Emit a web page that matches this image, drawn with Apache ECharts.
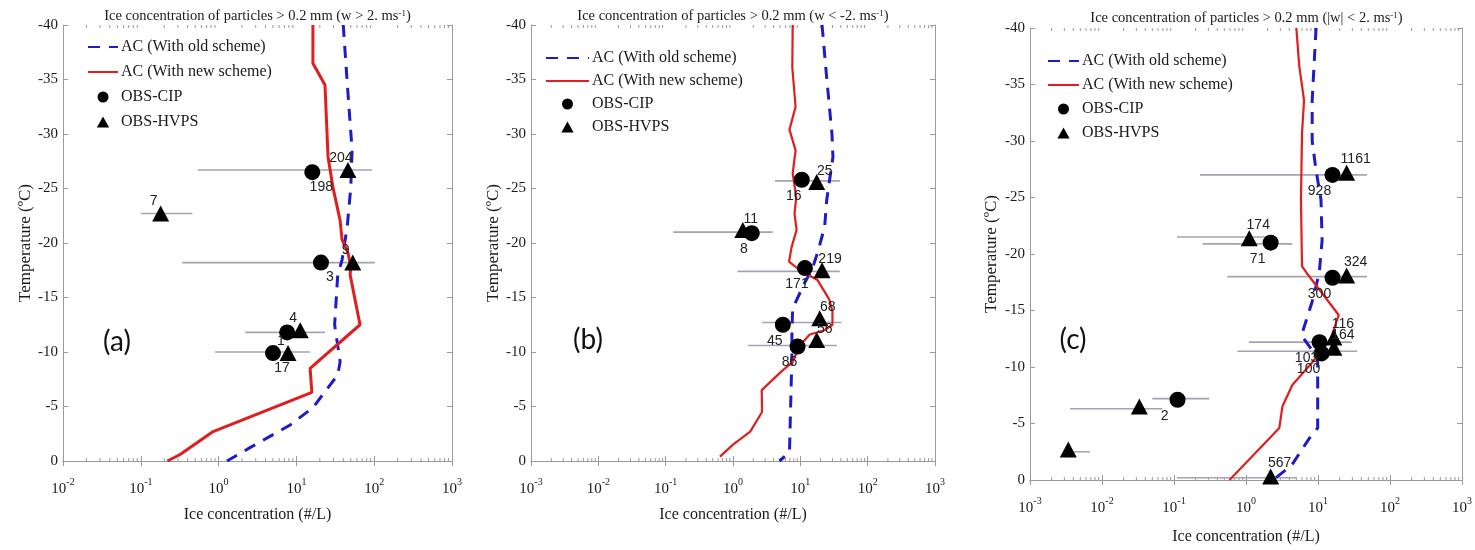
<!DOCTYPE html>
<html><head><meta charset="utf-8">
<script src="https://cdn.jsdelivr.net/npm/echarts@6/dist/echarts.min.js"></script>
<style>html,body{margin:0;padding:0;background:#fff}#c{width:1475px;height:550px}</style>
</head><body><div id="c"></div>
<script>
// ---------- DATA ----------
const titles = [
  'Ice concentration of particles > 0.2 mm (w > 2. ms{s|-1})',
  'Ice concentration of particles > 0.2 mm (w < -2. ms{s|-1})',
  'Ice concentration of particles > 0.2 mm (|w| < 2. ms{s|-1})'
];
const panelTags = ['(a)', '(b)', '(c)'];
const legendNames = ['AC (With old scheme)', 'AC (With new scheme)', 'OBS-CIP', 'OBS-HVPS'];
const xName = 'Ice concentration (#/L)';
const yName = 'Temperature (\u00BAC)';
const xMinExp = [-2, -3, -3];
const xMaxExp = [3, 3, 3];

// Panel (a)
const aNewT = [-40, -36.5, -34.5, -27.9, -25.1, -22.1, -20.3, -19.1, -17.8, -17.1, -12.5, -8.5, -6.3, -2.7, -0.6, 0];
const aNewC = [16.3, 16.3, 23.3, 25.5, 29.5, 36.4, 38.6, 46, 50, 49, 65.7, 15, 15.8, 0.85, 0.32, 0.22];
const aOldT = [-40, -34.7, -28.5, -25.1, -21.5, -18.4, -17.1, -12.5, -9.1, -7.9, -4.9, -3.3, -1.2, 0];
const aOldC = [40, 45, 52, 50, 45, 38.5, 34, 31, 36.5, 34, 16.3, 8.3, 2.5, 1.28];
const aCIP = [[16, -26.5, '198'], [20.7, -18.2, '3'], [7.6, -11.8, ''], [5.0, -9.9, '17']];
const aHVPS = [[46, -26.7, '204'], [0.18, -22.7, '7'], [53, -18.2, '9'], [11.2, -12.0, '4'], [7.8, -9.9, '1']];
const aErr = [[0.54, 94, -26.7], [0.10, 0.46, -22.7], [0.34, 102, -18.2], [2.2, 23.3, -11.8], [0.9, 15, -10]];

// Panel (b)
const bNewT = [-40, -36.1, -32.5, -30.4, -28.5, -26.4, -24.2, -22.7, -21.2, -19.6, -18.3, -17.5, -16.6, -14.8, -13.7, -12.5, -12, -11.6, -10.6, -9.1, -8.2, -6.5, -4.5, -2.7, -1.5, -0.4];
const bNewC = [7.7, 7.6, 8.5, 6.9, 8.5, 7.7, 8.7, 8.2, 8.8, 7.4, 6.8, 9.8, 18, 27, 30, 30, 23, 13.8, 9.8, 7.7, 5.2, 2.67, 2.7, 1.8, 1.0, 0.64];
const bOldT = [-40, -35.2, -30, -27.9, -23.9, -21.5, -19.1, -17.5, -16.4, -14, -12, -10, -8.2, -5.4, -0.8, 0];
const bOldC = [21, 24.6, 29.5, 30.5, 24.6, 23, 18, 14.8, 11.7, 7.7, 7.5, 7.5, 7.4, 7.2, 6.9, 4.9];
const bCIP = [[10.5, -25.8, '16'], [1.9, -20.9, '8'], [11.7, -17.7, '171'], [5.5, -12.5, '45'], [9.1, -10.5, '86']];
const bHVPS = [[17.5, -25.6, '25'], [1.4, -21.2, '11'], [21, -17.5, '219'], [19.4, -13.1, '68'], [17.5, -11.1, '56']];
const bErr = [[4.2, 38.5, -25.7], [0.13, 3.9, -21], [1.17, 38.5, -17.4], [2.7, 41, -12.7], [1.66, 35, -10.6]];

// Panel (c)
const cNewT = [-40, -36.6, -33.6, -30.7, -24.8, -18.9, -18.3, -14.6, -12.5, -10.4, -8.4, -6.5, -4.6, 0];
const cNewC = [5.0, 5.5, 6.4, 6.0, 5.8, 6.0, 7.0, 19.4, 15, 8.3, 4.4, 3.2, 2.9, 0.59];
const cOldT = [-40, -33.6, -30, -27.4, -24.8, -21.2, -18.3, -15.8, -12.8, -10.8, -7.8, -4.6, -3.7, -1.3, -0.2];
const cOldC = [9.4, 8.3, 8.3, 9.4, 11, 11.4, 10.4, 8.3, 5.9, 9.9, 9.9, 9.9, 7.6, 4.3, 2.6];
const cCIP = [[15.9, -27, '928'], [2.2, -21, '71'], [15.9, -17.9, '300'], [10.5, -12.2, '103'], [11.2, -11.2, '100'], [0.112, -7.1, '2']];
const cHVPS = [[25, -27.2, '1161'], [1.11, -21.4, '174'], [25, -18.1, '324'], [16.6, -12.6, '116'], [16.6, -11.7, '164'], [0.033, -6.5, ''], [0.0034, -2.7, ''], [2.2, -0.3, '567']];
const cErr = [[0.23, 48, -27], [0.11, 2.1, -21.5], [0.25, 4.4, -20.9], [0.55, 48, -18], [1.1, 29.5, -12.2], [0.76, 35, -11.4], [0.05, 0.31, -7.2], [0.0036, 0.069, -6.3], [0.0034, 0.0068, -2.5], [0.11, 5, -0.2]];

// ---------- LAYOUT / STYLE ----------
const panels = [
  {newT: aNewT, newC: aNewC, oldT: aOldT, oldC: aOldC, cip: aCIP, hvps: aHVPS, err: aErr},
  {newT: bNewT, newC: bNewC, oldT: bOldT, oldC: bOldC, cip: bCIP, hvps: bHVPS, err: bErr},
  {newT: cNewT, newC: cNewC, oldT: cOldT, oldC: cOldC, cip: cCIP, hvps: cHVPS, err: cErr}
];
const grids = [
  {left: 63, top: 25, width: 389, height: 436},
  {left: 531, top: 25, width: 404, height: 436},
  {left: 1030, top: 28, width: 433, height: 452}
];
const layout = [
  {titleTop: 9, xNameGap: 46, yNameGap: 24, legLeft: 87, legTop: 39, legW: 30, legGap: 9, tagX: 117, tagY: 345, newW: 3, cipOff: [9, 15], hvpsOff: [-7, -12]},
  {titleTop: 9, xNameGap: 46, yNameGap: 27, legLeft: 545, legTop: 50, legW: 43, legGap: 7, tagX: 588, tagY: 343, newW: 2.2, cipOff: [-8, 16], hvpsOff: [8, -11]},
  {titleTop: 11, xNameGap: 49, yNameGap: 30, legLeft: 1047, legTop: 53, legW: 31, legGap: 8, tagX: 1073, tagY: 343, newW: 2.2, cipOff: [-13, 16], hvpsOff: [9, -13]}
];
const SERIF = 'Liberation Serif';
const axisCol = '#9a9a9a';
const txtCol = '#1a1a1a';
const supRich = {
  b: {fontFamily: SERIF, fontSize: 15, color: txtCol, lineHeight: 20, verticalAlign: 'bottom'},
  s: {fontFamily: SERIF, fontSize: 10, color: txtCol, lineHeight: 10, verticalAlign: 'top'}
};
const triIcon = 'path://M5,0 L10,9 L0,9 Z';

const option = {
  backgroundColor: '#fff',
  animation: false,
  title: [], legend: [], grid: [], xAxis: [], yAxis: [], series: []
};

panels.forEach((p, i) => {
  const L = layout[i];
  const g = grids[i];
  option.grid.push(Object.assign({containLabel: false}, g));
  const cx = g.left + g.width / 2;
  option.title.push({
    text: titles[i], left: cx, top: L.titleTop, textAlign: 'center', padding: 0,
    textStyle: {fontFamily: SERIF, fontSize: 14.5, fontWeight: 'normal', color: txtCol,
      rich: {s: {fontFamily: SERIF, fontSize: 9, color: txtCol, verticalAlign: 'top', lineHeight: 10}}}
  });
  option.title.push({
    text: panelTags[i], left: L.tagX, top: L.tagY - 17, textAlign: 'center', padding: 0,
    textStyle: {fontFamily: 'Lato', fontSize: 28, fontWeight: 'normal', color: '#111'}
  });
  const xmin = Math.pow(10, xMinExp[i]), xmax = Math.pow(10, xMaxExp[i]);
  const common = {
    type: 'log', logBase: 10, min: xmin, max: xmax, gridIndex: i,
    splitNumber: xMaxExp[i] - xMinExp[i],
    splitLine: {show: false},
    axisLine: {show: true, lineStyle: {color: axisCol, width: 1}},
    axisTick: {show: true, inside: true, length: 5, lineStyle: {color: axisCol}}
  };
  option.xAxis.push(Object.assign({}, common, {
    position: 'bottom',
    axisLabel: {margin: 16, formatter: v => '{b|10}{s|' + Math.round(Math.log10(v)) + '}', rich: supRich},
    name: xName, nameLocation: 'middle', nameGap: L.xNameGap,
    nameTextStyle: {fontFamily: SERIF, fontSize: 16, color: txtCol}
  }));
  option.xAxis.push(Object.assign({}, common, {position: 'top', axisLabel: {show: false}}));
  const ycommon = {
    type: 'value', inverse: true, min: -40, max: 0, interval: 5, gridIndex: i,
    splitLine: {show: false},
    axisLine: {show: true, lineStyle: {color: axisCol, width: 1}},
    axisTick: {show: true, inside: true, length: 5, lineStyle: {color: axisCol}}
  };
  option.yAxis.push(Object.assign({}, ycommon, {
    position: 'left',
    axisLabel: {margin: 5, fontFamily: SERIF, fontSize: 15, color: txtCol},
    name: yName, nameLocation: 'middle', nameGap: L.yNameGap, nameRotate: 90,
    nameTextStyle: {fontFamily: SERIF, fontSize: 17, color: txtCol}
  }));
  option.yAxis.push(Object.assign({}, ycommon, {position: 'right', axisLabel: {show: false}}));
  const xi = i * 2, yi = i * 2;

  // minor log ticks (axis decoration)
  const minor = [];
  for (let e = xMinExp[i]; e < xMaxExp[i]; e++) for (let k = 2; k <= 9; k++) minor.push([k * Math.pow(10, e)]);
  option.series.push({
    type: 'custom', xAxisIndex: xi, yAxisIndex: yi, silent: true, z: 1, data: minor,
    encode: {x: 0},
    renderItem: (params, api) => {
      const b = api.coord([api.value(0), 0]);
      const t = api.coord([api.value(0), -40]);
      return {type: 'group', children: [
        {type: 'line', shape: {x1: b[0], y1: b[1], x2: b[0], y2: b[1] - 3}, style: {stroke: axisCol, lineWidth: 1}},
        {type: 'line', shape: {x1: t[0], y1: t[1], x2: t[0], y2: t[1] + 3}, style: {stroke: axisCol, lineWidth: 1}}
      ]};
    }
  });
  // error bars
  option.series.push({
    type: 'custom', xAxisIndex: xi, yAxisIndex: yi, silent: true, z: 2, data: p.err,
    encode: {x: [0, 1], y: 2},
    renderItem: (params, api) => {
      const lo = api.coord([api.value(0), api.value(2)]);
      const hi = api.coord([api.value(1), api.value(2)]);
      return {type: 'line', shape: {x1: lo[0], y1: lo[1], x2: hi[0], y2: hi[1]},
        style: {stroke: '#a6a2b2', lineWidth: 1.6}};
    }
  });
  option.series.push({
    name: legendNames[0], type: 'line', xAxisIndex: xi, yAxisIndex: yi, z: 3,
    data: p.oldC.map((c, j) => [c, p.oldT[j]]), symbol: 'none',
    lineStyle: {color: '#1c1cc8', width: 3, type: [12, 9]}, itemStyle: {color: '#1c1cc8'}
  });
  option.series.push({
    name: legendNames[1], type: 'line', xAxisIndex: xi, yAxisIndex: yi, z: 4,
    data: p.newC.map((c, j) => [c, p.newT[j]]), symbol: 'none',
    lineStyle: {color: '#e01e1e', width: L.newW}, itemStyle: {color: '#e01e1e'}
  });
  const lab = off => ({show: true, position: 'inside', offset: off, formatter: q => q.value[2] || '',
    fontFamily: 'Liberation Sans', fontSize: 14, color: '#222'});
  option.series.push({
    name: legendNames[2], type: 'scatter', xAxisIndex: xi, yAxisIndex: yi, z: 5,
    symbol: 'circle', symbolSize: 16, itemStyle: {color: '#000', opacity: 1}, data: p.cip, label: lab(L.cipOff)
  });
  option.series.push({
    name: legendNames[3], type: 'scatter', xAxisIndex: xi, yAxisIndex: yi, z: 5,
    symbol: 'triangle', symbolSize: [17, 16], itemStyle: {color: '#000', opacity: 1}, data: p.hvps, label: lab(L.hvpsOff)
  });
  option.legend.push({
    orient: 'vertical', left: L.legLeft, top: L.legTop, padding: 0,
    itemWidth: L.legW, itemHeight: 11, itemGap: L.legGap,
    textStyle: {fontFamily: SERIF, fontSize: 16, color: txtCol, padding: [0, 0, 0, -2]},
    data: [
      {name: legendNames[0], itemStyle: {opacity: 0}},
      {name: legendNames[1], itemStyle: {opacity: 0}},
      {name: legendNames[2]},
      {name: legendNames[3], icon: triIcon}
    ]
  });
});

const chart = echarts.init(document.getElementById('c'), null, {renderer: 'canvas'});
chart.setOption(option);
</script></body></html>
